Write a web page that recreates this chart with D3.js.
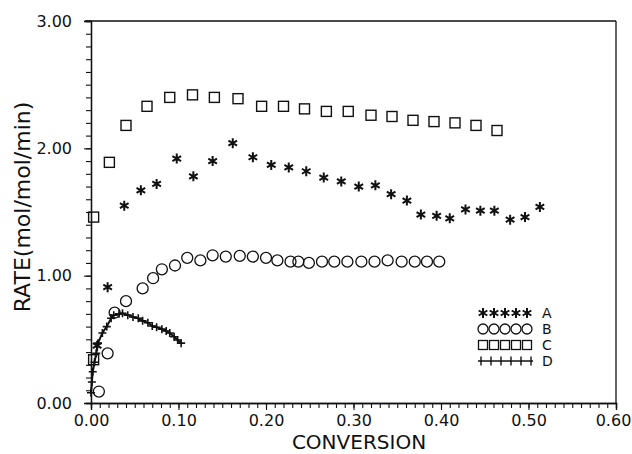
<!DOCTYPE html>
<html>
<head>
<meta charset="UTF-8">
<script src="https://d3js.org/d3.v7.min.js"></script>
<style>
body { margin: 0; background: #fff; }
svg { font-family: "DejaVu Sans", sans-serif; }
.axis .domain { stroke: #111; stroke-width: 1.3; }
.axis line { stroke: #111; stroke-width: 1.1; }
.axis text { font-size: 16px; fill: #111; font-family: "DejaVu Sans", sans-serif; }
</style>
</head>
<body>
<svg width="632" height="454"></svg>
<script>

// values: [conversion, rate]
var seriesA = [[0.007,0.45],[0.019,0.91],[0.038,1.55],[0.057,1.67],[0.075,1.72],[0.098,1.92],
  [0.117,1.78],[0.139,1.90],[0.162,2.04],[0.185,1.93],[0.206,1.87],[0.226,1.85],[0.246,1.82],
  [0.266,1.77],[0.286,1.74],[0.306,1.70],[0.325,1.71],[0.343,1.64],[0.361,1.59],[0.377,1.48],
  [0.395,1.47],[0.410,1.45],[0.428,1.52],[0.445,1.51],[0.461,1.51],[0.479,1.44],[0.496,1.46],
  [0.513,1.54]];

var seriesB = [[0.009,0.09],[0.019,0.39],[0.027,0.71],[0.040,0.80],[0.059,0.90],[0.071,0.98],
  [0.081,1.05],[0.096,1.08],[0.110,1.14],[0.125,1.12],[0.139,1.16],[0.154,1.15],[0.170,1.155],
  [0.185,1.15],[0.200,1.14],[0.213,1.12],[0.228,1.11],[0.237,1.11],[0.249,1.10],[0.264,1.11],
  [0.278,1.11],[0.293,1.11],[0.309,1.11],[0.324,1.11],[0.339,1.12],[0.355,1.11],[0.370,1.11],
  [0.384,1.11],[0.398,1.11]];

var seriesC = [[0.003,0.34],[0.003,1.46],[0.021,1.89],[0.040,2.18],[0.064,2.33],[0.090,2.40],
  [0.116,2.42],[0.141,2.40],[0.168,2.39],[0.195,2.33],[0.220,2.33],[0.244,2.31],[0.269,2.29],
  [0.294,2.29],[0.320,2.26],[0.344,2.25],[0.368,2.22],[0.392,2.21],[0.416,2.20],[0.440,2.18],
  [0.464,2.14]];

var seriesD = [[0.000,0.08],[0.001,0.165],[0.002,0.245],[0.004,0.32],[0.006,0.39],[0.008,0.47],
  [0.013,0.55],[0.018,0.60],[0.023,0.665],[0.026,0.69],[0.032,0.70],[0.036,0.705],[0.042,0.69],
  [0.048,0.675],[0.054,0.665],[0.059,0.645],[0.065,0.63],[0.070,0.605],[0.075,0.595],
  [0.081,0.58],[0.086,0.565],[0.090,0.55],[0.095,0.52],[0.099,0.495],[0.103,0.47]];

var seriesNames = ["A", "B", "C", "D"];
var xTicks = [0, 0.1, 0.2, 0.3, 0.4, 0.5, 0.6];
var yTicks = [0, 1, 2, 3];

var svg = d3.select("svg");
var x = d3.scaleLinear().domain([0, 0.6]).range([91, 616]);
var y = d3.scaleLinear().domain([0, 3]).range([403, 21]);

// minor ticks
svg.append("g").attr("class", "axis")
    .attr("transform", "translate(0," + y(0) + ")")
    .call(d3.axisBottom(x).tickValues(d3.range(61).map(function(i) { return i / 100; }))
      .tickSize(5).tickFormat(""));
svg.append("g").attr("class", "axis")
    .attr("transform", "translate(" + x(0) + ",0)")
    .call(d3.axisLeft(y).tickValues(d3.range(31).map(function(i) { return i / 10; }))
      .tickSize(5).tickFormat(""));

// major ticks + labels
var xAxisG = svg.append("g").attr("class", "axis")
    .attr("transform", "translate(0," + y(0) + ")")
    .call(d3.axisBottom(x).tickValues(xTicks).tickSize(7).tickPadding(5).tickFormat(d3.format(".2f")));
// last label sits on the page edge, nudge it in
xAxisG.selectAll(".tick text").filter(function(d) { return d === 0.6; }).attr("dx", -3);

svg.append("g").attr("class", "axis")
    .attr("transform", "translate(" + x(0) + ",0)")
    .call(d3.axisLeft(y).tickValues(yTicks).tickSize(7).tickPadding(12).tickFormat(d3.format(".2f")));

// frame top and right
svg.append("line").attr("x1", x(0) - 6).attr("x2", x(0.6)).attr("y1", y(3)).attr("y2", y(3))
    .attr("stroke", "#111").attr("stroke-width", 1.3);
svg.append("line").attr("x1", x(0.6)).attr("x2", x(0.6)).attr("y1", y(0)).attr("y2", y(3))
    .attr("stroke", "#111").attr("stroke-width", 1.3);

svg.append("text").attr("x", 359).attr("y", 449).attr("text-anchor", "middle")
    .attr("font-size", 20).attr("fill", "#111").text("CONVERSION");
svg.append("text").attr("transform", "translate(30,207) rotate(-90)").attr("text-anchor", "middle")
    .attr("font-size", 22).attr("fill", "#111").text("RATE(mol/mol/min)");

function starPath(r) {
  var p = "";
  [90, 30, -30].forEach(function(a) {
    var c = Math.cos(a * Math.PI / 180) * r, s = Math.sin(a * Math.PI / 180) * r;
    p += "M" + c + "," + s + "L" + (-c) + "," + (-s);
  });
  return p;
}
function plusPath(r) { return "M" + (-r) + ",0H" + r + "M0," + (-r) + "V" + r; }

function drawMarker(g, type) {
  if (type === "A") g.append("path").attr("d", starPath(5)).attr("stroke", "#111").attr("stroke-width", 2);
  if (type === "B") g.append("circle").attr("r", 5.5).attr("fill", "none").attr("stroke", "#111").attr("stroke-width", 1.3);
  if (type === "C") g.append("rect").attr("x", -5).attr("y", -5).attr("width", 10).attr("height", 10)
      .attr("fill", "none").attr("stroke", "#111").attr("stroke-width", 1.4);
  if (type === "D") g.append("path").attr("d", plusPath(4)).attr("stroke", "#111").attr("stroke-width", 1.6);
}

// D connecting line
svg.append("path").datum(seriesD)
    .attr("d", d3.line().x(function(d) { return x(d[0]); }).y(function(d) { return y(d[1]); }))
    .attr("fill", "none").attr("stroke", "#111").attr("stroke-width", 2);

var allSeries = { A: seriesA, B: seriesB, C: seriesC, D: seriesD };
seriesNames.forEach(function(name) {
  svg.append("g").selectAll("g").data(allSeries[name]).enter().append("g")
      .attr("transform", function(d) { return "translate(" + x(d[0]) + "," + y(d[1]) + ")"; })
      .each(function() { drawMarker(d3.select(this), name); });
});

// legend
var legend = svg.append("g").selectAll("g").data(seriesNames).enter().append("g")
    .attr("transform", function(d, i) { return "translate(0," + (313 + i * 16) + ")"; });
legend.each(function(name) {
  var g = d3.select(this);
  var n = name === "D" ? 6 : 5;
  var step = name === "D" ? 10 : 11;
  if (name === "D") g.append("line").attr("x1", 478).attr("x2", 533).attr("stroke", "#111").attr("stroke-width", 1.6);
  for (var i = 0; i < n; i++) {
    var m = g.append("g").attr("transform", "translate(" + (name === "D" ? 481 + i * step : 483 + i * step) + ",0)");
    if (name === "B") m.append("circle").attr("r", 5).attr("fill", "none").attr("stroke", "#111").attr("stroke-width", 1.3);
    else if (name === "C") m.append("rect").attr("x", -4.5).attr("y", -4.5).attr("width", 9).attr("height", 9)
        .attr("fill", "none").attr("stroke", "#111").attr("stroke-width", 1.3);
    else if (name === "D") m.append("line").attr("y1", -4.5).attr("y2", 4.5).attr("stroke", "#111").attr("stroke-width", 1.4);
    else drawMarker(m, name);
  }
  g.append("text").attr("x", 542).attr("y", 5).attr("font-size", 14).attr("fill", "#111").text(name);
});

</script>
</body>
</html>
